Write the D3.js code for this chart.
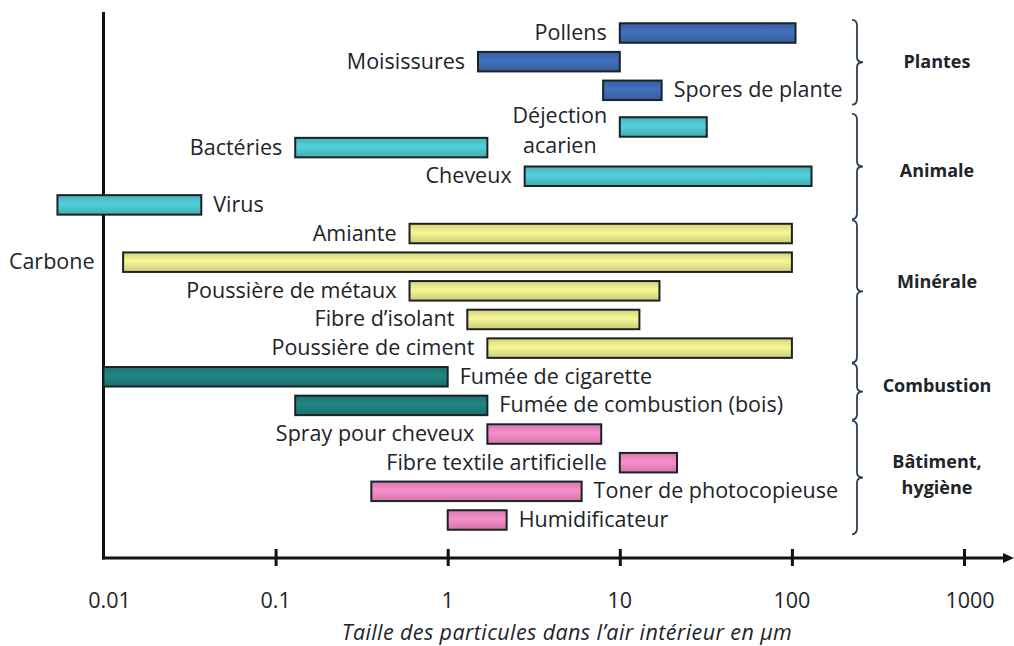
<!DOCTYPE html>
<html lang="fr">
<head>
<meta charset="utf-8">
<script src="https://cdn.jsdelivr.net/npm/d3@7"></script>
<style>
  html, body { margin: 0; padding: 0; background: #fff; }
  svg { display: block; }
  text { font-family: "Open Sans", Lato, sans-serif; fill: #212429; }
</style>
</head>
<body>
<svg id="chart" width="1014" height="646"></svg>
<script>
// Particle families and their size ranges (µm)
const particles = [
  "Pollens", "Moisissures", "Spores de plante",
  "Déjection acarien", "Bactéries", "Cheveux", "Virus",
  "Amiante", "Carbone", "Poussière de métaux", "Fibre d’isolant", "Poussière de ciment",
  "Fumée de cigarette", "Fumée de combustion (bois)",
  "Spray pour cheveux", "Fibre textile artificielle", "Toner de photocopieuse", "Humidificateur"
];
const minSize = [10, 1.5, 8, 10, 0.13, 2.8, 0.0054, 0.6, 0.013, 0.6, 1.3, 1.7, 0.01, 0.13, 1.7, 10, 0.36, 1];
const maxSize = [105, 10, 17.5, 32, 1.7, 130, 0.037, 100, 100, 17, 13, 100, 1, 1.7, 7.8, 21.5, 6, 2.2];
const groupIndex = [0, 0, 0, 1, 1, 1, 1, 2, 2, 2, 2, 2, 3, 3, 4, 4, 4, 4];

const groups = ["Plantes", "Animale", "Minérale", "Combustion", "Bâtiment, hygiène"];
const groupColors = ["#3d69b1", "#4cc3cb", "#e6e68a", "#1f7d7b", "#e985bd"];

const tickValues = [0.01, 0.1, 1, 10, 100, 1000];
const tickLabels = ["0.01", "0.1", "1", "10", "100", "1000"];
const axisTitle = "Taille des particules dans l’air intérieur en µm";

// label placement per row: left of bar, right of bar, left of axis, or two-line stack
const labelSide = ["left", "left", "right", "stack", "left", "left", "right",
  "left", "axis", "left", "left", "left", "right", "right",
  "left", "left", "right", "right"];
// fractional row shift (the mite row sits lower, next to the bacteria row)
const rowShift = [0, 0, 0, 0.28, 0, 0, 0, 0, 0, 0, 0, 0, 0, 0, 0, 0, 0, 0];
// vertical nudge of each group caption relative to its brace tip
const groupLabelDy = [0, 4, -9, -6, -3];

const svg = d3.select("#chart");
const axisY = 558;

const x = d3.scaleLog().domain([0.01, 1000]).range([103.5, 964]);
const yPoint = d3.scalePoint().domain(d3.range(particles.length)).range([18.7, 534.3]).padding(0.5);
const step = yPoint.step();
const rowY = i => yPoint(i) + rowShift[i] * step;
const barH = 19.5;

// vertical gradients to give the bars a soft bevelled look
const defs = svg.append("defs");
groupColors.forEach((c, i) => {
  const g = defs.append("linearGradient").attr("id", "grad" + i)
    .attr("x1", 0).attr("y1", 0).attr("x2", 0).attr("y2", 1);
  const base = d3.color(c);
  g.append("stop").attr("offset", "0%").attr("stop-color", base.darker(0.25));
  g.append("stop").attr("offset", "45%").attr("stop-color", base.brighter(0.2));
  g.append("stop").attr("offset", "100%").attr("stop-color", base.darker(0.35));
});

// axes
const axisG = svg.append("g");
axisG.append("line")
  .attr("x1", x(0.01)).attr("x2", x(0.01))
  .attr("y1", 12).attr("y2", axisY + 1.5)
  .attr("stroke", "#111").attr("stroke-width", 3);
axisG.append("line")
  .attr("x1", x(0.01) - 1.5).attr("x2", 1006)
  .attr("y1", axisY).attr("y2", axisY)
  .attr("stroke", "#111").attr("stroke-width", 3);
axisG.append("path")
  .attr("d", `M1014,${axisY} L1003,${axisY - 5} L1003,${axisY + 5} Z`)
  .attr("fill", "#111");

const xAxis = d3.axisBottom(x).tickValues(tickValues.slice(1)).tickSize(0).tickFormat("");
const ticksG = svg.append("g").attr("transform", `translate(0,${axisY})`).call(xAxis);
ticksG.select(".domain").remove();
ticksG.selectAll(".tick").append("line")
  .attr("y1", -9).attr("y2", 8)
  .attr("stroke", "#111").attr("stroke-width", 3);

svg.append("g").selectAll("text").data(tickValues).join("text")
  .attr("x", (d, i) => x(d) + (i === 0 ? 6 : i === 5 ? 6 : 0))
  .attr("y", 608)
  .attr("text-anchor", "middle")
  .attr("font-size", 21.5)
  .text((d, i) => tickLabels[i]);

svg.append("text")
  .attr("x", 567).attr("y", 640)
  .attr("text-anchor", "middle")
  .attr("font-size", 21.5)
  .attr("letter-spacing", 0.4)
  .attr("font-style", "italic")
  .text(axisTitle);

// bars
svg.append("g").selectAll("rect").data(particles).join("rect")
  .attr("x", (d, i) => x(minSize[i]))
  .attr("width", (d, i) => x(maxSize[i]) - x(minSize[i]))
  .attr("y", (d, i) => rowY(i) - barH / 2)
  .attr("height", barH)
  .attr("fill", (d, i) => `url(#grad${groupIndex[i]})`)
  .attr("stroke", "#1b2226")
  .attr("stroke-width", 2);

// bar labels
const labelG = svg.append("g").attr("font-size", 21.5);
particles.forEach((name, i) => {
  const side = labelSide[i];
  const cy = rowY(i);
  if (side === "stack") {
    const words = name.split(" ");
    const cx = x(minSize[i]) - 60;
    labelG.append("text").attr("x", cx).attr("y", cy - 4)
      .attr("text-anchor", "middle").text(words[0]);
    labelG.append("text").attr("x", cx).attr("y", cy + 26)
      .attr("text-anchor", "middle").text(words[1]);
    return;
  }
  const t = labelG.append("text").attr("y", cy + 7).text(name);
  if (side === "left") t.attr("x", x(minSize[i]) - 13).attr("text-anchor", "end");
  else if (side === "right") t.attr("x", x(maxSize[i]) + 12).attr("text-anchor", "start");
  else t.attr("x", x(0.01) - 9).attr("text-anchor", "end");
});

// group braces and captions
const braceX = 852;
const captionX = 937;
groups.forEach((g, gi) => {
  const rows = d3.range(particles.length).filter(i => groupIndex[i] === gi);
  const y0 = rowY(rows[0]) - step * 0.46;
  const y1 = rowY(rows[rows.length - 1]) + step * 0.5;
  const ym = (y0 + y1) / 2;
  const bx = braceX, mx = bx + 5, px = bx + 11;
  const p = `M${bx},${y0} Q${mx},${y0} ${mx},${y0 + 6} L${mx},${ym - 5} Q${mx},${ym} ${px},${ym}`
          + ` Q${mx},${ym} ${mx},${ym + 5} L${mx},${y1 - 6} Q${mx},${y1} ${bx},${y1}`;
  svg.append("path").attr("d", p).attr("fill", "none")
    .attr("stroke", "#2e3e52").attr("stroke-width", 1.8);

  const parts = g.split(" ");
  const cy = ym + groupLabelDy[gi];
  const lt = svg.append("text").attr("x", captionX).attr("text-anchor", "middle")
    .attr("font-size", 18).attr("font-weight", "bold");
  if (parts.length === 1) {
    lt.attr("y", cy + 6).text(g);
  } else {
    lt.append("tspan").attr("x", captionX).attr("y", cy - 13 + 6).text(parts[0]);
    lt.append("tspan").attr("x", captionX).attr("y", cy + 13 + 6).text(parts[1]);
  }
});
</script>
</body>
</html>
